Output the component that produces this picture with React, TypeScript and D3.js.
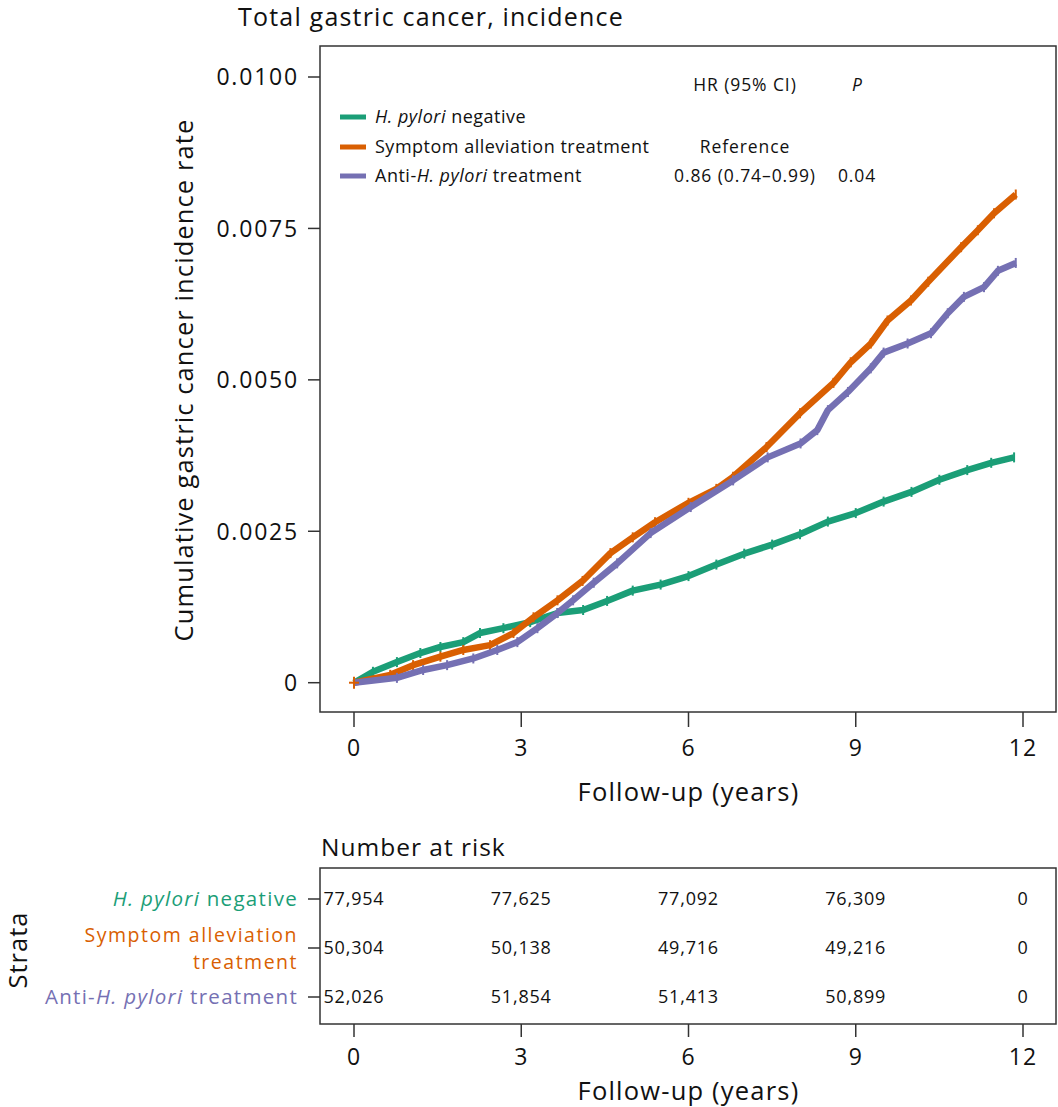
import React from "react";
import * as d3 from "d3";

// H. pylori negative
const negYears = [0, 0.34, 0.77, 1.19, 1.55, 1.96, 2.26, 2.68, 3.16, 3.65, 4.11, 4.54, 5.0, 5.5, 6.0, 6.5, 7.0, 7.5, 8.0, 8.5, 9.0, 9.5, 10.0, 10.5, 11.0, 11.43, 11.84];
const negRate = [0, 0.00018, 0.00034, 0.00049, 0.00059, 0.00067, 0.00082, 0.0009, 0.001, 0.00115, 0.0012, 0.00135, 0.00152, 0.00162, 0.00176, 0.00195, 0.00213, 0.00228, 0.00245, 0.00266, 0.0028, 0.00299, 0.00315, 0.00335, 0.00351, 0.00363, 0.00372];
// Symptom alleviation treatment
const symYears = [0, 0.65, 1.06, 1.55, 1.96, 2.44, 2.86, 3.22, 3.65, 4.1, 4.6, 5.0, 5.4, 6.0, 6.5, 6.8, 7.4, 8.0, 8.6, 8.91, 9.27, 9.57, 9.99, 10.3, 10.89, 11.19, 11.48, 11.87];
const symRate = [0, 0.00013, 0.00029, 0.00043, 0.00054, 0.00062, 0.00082, 0.00108, 0.00136, 0.00168, 0.00214, 0.0024, 0.00265, 0.00297, 0.0032, 0.0034, 0.00389, 0.00445, 0.00495, 0.00529, 0.0056, 0.00598, 0.00631, 0.00662, 0.00719, 0.00747, 0.00775, 0.00806];
// Anti-H. pylori treatment
const antiYears = [0, 0.77, 1.24, 1.67, 2.14, 2.57, 2.93, 3.29, 3.65, 3.93, 4.3, 4.72, 5.32, 6.04, 6.8, 7.42, 8.01, 8.31, 8.5, 8.86, 9.27, 9.5, 9.93, 10.35, 10.65, 10.94, 11.3, 11.55, 11.87];
const antiRate = [0, 0.00008, 0.00021, 0.00029, 0.0004, 0.00054, 0.00067, 0.0009, 0.00115, 0.00136, 0.00165, 0.00197, 0.00247, 0.0029, 0.00334, 0.00372, 0.00395, 0.00417, 0.0045, 0.0048, 0.00519, 0.00545, 0.0056, 0.00577, 0.0061, 0.00637, 0.00653, 0.0068, 0.00693];

const xTicks = [0, 3, 6, 9, 12];
const yTicks = [0, 0.0025, 0.005, 0.0075, 0.01];
const yTickLabels = ["0", "0.0025", "0.0050", "0.0075", "0.0100"];

const riskNeg = ["77,954", "77,625", "77,092", "76,309", "0"];
const riskSym = ["50,304", "50,138", "49,716", "49,216", "0"];
const riskAnti = ["52,026", "51,854", "51,413", "50,899", "0"];

const COLORS = { neg: "#1b9e77", sym: "#d95f02", anti: "#7570b3" };
const FONT = "'Open Sans', Roboto, 'Liberation Sans', sans-serif";
const AXIS = "#333";
const INK = "#111";

export default function App() {
  const x = d3.scaleLinear().domain([0, 12]).range([354, 1023]);
  const y = d3.scaleLinear().domain([0, 0.01]).range([682.7, 77]);
  const line = d3
    .line<[number, number]>()
    .x((d) => x(d[0]))
    .y((d) => y(d[1]))
    .curve(d3.curveLinear);

  const series = [
    { key: "neg", t: negYears, vals: negRate, color: COLORS.neg },
    { key: "sym", t: symYears, vals: symRate, color: COLORS.sym },
    { key: "anti", t: antiYears, vals: antiRate, color: COLORS.anti },
  ];

  const frame = { left: 320, right: 1056, top: 46, bottom: 712 };
  const table = { left: 320, right: 1056, top: 868, bottom: 1024 };
  const rowY = [899, 948, 997];
  const risks = [riskNeg, riskSym, riskAnti];

  return (
    <svg
      width={1058}
      height={1107}
      style={{ position: "absolute", left: 0, top: 0, background: "#fff" }}
      fontFamily={FONT}
    >
      <rect x={0} y={0} width={1058} height={1107} fill="#fff" />
      <text x={238} y={26} fontSize={25} letterSpacing={1.2} fill={INK}>
        Total gastric cancer, incidence
      </text>

      <rect
        x={frame.left}
        y={frame.top}
        width={frame.right - frame.left}
        height={frame.bottom - frame.top}
        fill="none"
        stroke={AXIS}
        strokeWidth={1.5}
      />

      {yTicks.map((t, i) => (
        <g key={"yt" + i}>
          <line x1={308} x2={320} y1={y(t)} y2={y(t)} stroke={AXIS} strokeWidth={1.5} />
          <text x={299} y={y(t)} dy="0.36em" textAnchor="end" fontSize={23} letterSpacing={1.8} fill={INK}>
            {yTickLabels[i]}
          </text>
        </g>
      ))}
      <text
        transform={`translate(193,380) rotate(-90)`}
        textAnchor="middle"
        fontSize={25.5}
        letterSpacing={1.1}
        fill={INK}
      >
        Cumulative gastric cancer incidence rate
      </text>

      {xTicks.map((t) => (
        <g key={"xt" + t}>
          <line x1={x(t)} x2={x(t)} y1={712} y2={727} stroke={AXIS} strokeWidth={1.5} />
          <text x={x(t)} y={748} dy="0.36em" textAnchor="middle" fontSize={23} letterSpacing={1} fill={INK}>
            {t}
          </text>
        </g>
      ))}
      <text x={(x(0) + x(12)) / 2} y={792} dy="0.36em" textAnchor="middle" fontSize={25.5} letterSpacing={1.2} fill={INK}>
        Follow-up (years)
      </text>

      {series.map((s) => {
        const pts: [number, number][] = s.t.map((yr, i) => [yr, s.vals[i]]);
        return (
          <g key={s.key}>
            <path
              d={line(pts) || ""}
              fill="none"
              stroke={s.color}
              strokeWidth={6.5}
              strokeLinejoin="round"
              strokeLinecap="butt"
            />
            {pts.slice(1).map((p, i) => (
              <line
                key={i}
                x1={x(p[0])}
                x2={x(p[0])}
                y1={y(p[1]) - 5}
                y2={y(p[1]) + 5}
                stroke={s.color}
                strokeWidth={2}
              />
            ))}
          </g>
        );
      })}
      <line x1={x(0) - 5} x2={x(0) + 5} y1={y(0)} y2={y(0)} stroke={COLORS.sym} strokeWidth={2} />
      <line x1={x(0)} x2={x(0)} y1={y(0) - 6} y2={y(0) + 6} stroke={COLORS.sym} strokeWidth={2} />

      {[
        { color: COLORS.neg, y: 117, label: <><tspan fontStyle="italic">H. pylori</tspan> negative</> },
        { color: COLORS.sym, y: 147, label: <>Symptom alleviation treatment</> },
        { color: COLORS.anti, y: 176, label: <>Anti-<tspan fontStyle="italic">H. pylori</tspan> treatment</> },
      ].map((l, i) => (
        <g key={"lg" + i}>
          <line x1={340} x2={366} y1={l.y} y2={l.y} stroke={l.color} strokeWidth={5} />
          <text x={375} y={l.y} dy="0.36em" fontSize={18} letterSpacing={0.5} fill={INK}>
            {l.label}
          </text>
        </g>
      ))}
      <text x={745} y={85} dy="0.36em" textAnchor="middle" fontSize={17.5} letterSpacing={0.9} fill={INK}>
        HR (95% CI)
      </text>
      <text x={857} y={85} dy="0.36em" textAnchor="middle" fontSize={17.5} fontStyle="italic" fill={INK}>
        P
      </text>
      <text x={745} y={147} dy="0.36em" textAnchor="middle" fontSize={17.5} letterSpacing={0.9} fill={INK}>
        Reference
      </text>
      <text x={745} y={176} dy="0.36em" textAnchor="middle" fontSize={17.5} letterSpacing={0.9} fill={INK}>
        0.86 (0.74–0.99)
      </text>
      <text x={857} y={176} dy="0.36em" textAnchor="middle" fontSize={17.5} letterSpacing={0.9} fill={INK}>
        0.04
      </text>

      <text x={321} y={847} dy="0.36em" fontSize={24.5} letterSpacing={1} fill={INK}>
        Number at risk
      </text>
      <rect
        x={table.left}
        y={table.top}
        width={table.right - table.left}
        height={table.bottom - table.top}
        fill="none"
        stroke={AXIS}
        strokeWidth={1.5}
      />
      {rowY.map((ry, r) => (
        <g key={"row" + r}>
          <line x1={308} x2={320} y1={ry} y2={ry} stroke={AXIS} strokeWidth={1.5} />
          {xTicks.map((t, i) => (
            <text key={i} x={x(t)} y={ry} dy="0.36em" textAnchor="middle" fontSize={18} letterSpacing={0.8} fill={INK}>
              {risks[r][i]}
            </text>
          ))}
        </g>
      ))}
      <text x={298} y={899} dy="0.36em" textAnchor="end" fontSize={20.5} letterSpacing={1.3} fill={COLORS.neg}>
        <tspan fontStyle="italic">H. pylori</tspan> negative
      </text>
      <text x={298} y={935} dy="0.36em" textAnchor="end" fontSize={19.5} letterSpacing={1.5} fill={COLORS.sym}>
        Symptom alleviation
      </text>
      <text x={298} y={962} dy="0.36em" textAnchor="end" fontSize={19.5} letterSpacing={1.5} fill={COLORS.sym}>
        treatment
      </text>
      <text x={298} y={997} dy="0.36em" textAnchor="end" fontSize={20.5} letterSpacing={1.3} fill={COLORS.anti}>
        Anti-<tspan fontStyle="italic">H. pylori</tspan> treatment
      </text>
      <text transform="translate(27,950) rotate(-90)" textAnchor="middle" fontSize={25.5} letterSpacing={1} fill={INK}>
        Strata
      </text>
      {xTicks.map((t) => (
        <g key={"rt" + t}>
          <line x1={x(t)} x2={x(t)} y1={1024} y2={1037} stroke={AXIS} strokeWidth={1.5} />
          <text x={x(t)} y={1057} dy="0.36em" textAnchor="middle" fontSize={23} letterSpacing={1} fill={INK}>
            {t}
          </text>
        </g>
      ))}
      <text x={(x(0) + x(12)) / 2} y={1091} dy="0.36em" textAnchor="middle" fontSize={25.5} letterSpacing={1.2} fill={INK}>
        Follow-up (years)
      </text>
    </svg>
  );
}
